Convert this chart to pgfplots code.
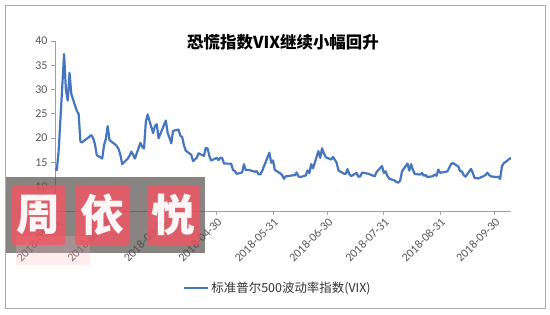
\documentclass[border=0pt]{standalone}
\usepackage{fontspec}
\usepackage{pgfplots}
\pgfplotsset{compat=1.18}
\setmainfont{Carlito}
\newfontfamily\cjk{Noto Sans CJK SC}
\definecolor{vix}{RGB}{70,118,190}
\definecolor{axgray}{RGB}{160,160,160}
\definecolor{tickgray}{RGB}{89,89,89}
\definecolor{frame}{RGB}{170,170,170}
\definecolor{wmgray}{RGB}{80,75,72}
\definecolor{wmred}{RGB}{255,80,95}
\pgfplotstableread{
d v
0 13.54
1 13.47
2 17.31
5 37.32
6 29.98
7 27.73
8 33.46
9 29.06
12 25.61
13 24.97
14 19.26
15 19.13
16 19.46
20 20.60
21 20.02
22 18.72
23 16.49
26 15.80
27 18.59
28 19.85
29 22.47
30 19.59
33 18.73
34 18.36
35 17.76
36 16.54
37 14.64
40 15.78
41 16.35
42 17.23
43 16.59
44 15.80
47 19.02
48 18.20
49 17.86
50 23.34
51 24.87
54 21.03
55 22.50
56 22.87
57 19.97
61 23.62
62 21.10
63 20.06
64 18.94
65 21.49
68 21.77
69 20.47
70 20.24
71 18.49
72 17.41
75 16.56
76 15.25
77 15.60
78 15.96
79 16.88
82 16.34
83 18.02
84 17.84
85 16.24
86 15.41
89 15.93
90 15.49
91 15.97
92 15.90
93 14.77
96 14.75
97 14.71
98 13.42
99 13.23
100 12.65
103 12.93
104 14.63
105 13.42
106 13.43
107 13.42
110 13.08
111 13.22
112 12.58
113 12.53
114 13.22
118 17.02
119 14.94
120 15.43
121 13.46
124 12.74
125 12.40
126 11.64
127 12.13
128 12.18
131 12.35
132 12.34
133 12.94
134 12.12
135 11.98
138 12.31
139 13.35
140 12.79
141 14.64
142 13.77
145 17.33
146 15.92
147 17.91
148 16.85
149 16.09
152 15.60
153 16.14
155 14.97
156 13.37
159 12.69
160 12.64
161 13.63
162 12.58
163 12.18
166 12.83
167 12.06
168 12.10
169 12.87
170 12.86
173 12.62
174 12.41
175 12.29
176 12.14
177 13.03
180 14.26
181 12.83
182 13.15
183 12.19
184 11.64
187 11.27
188 10.93
189 10.85
190 11.27
191 13.16
194 14.78
195 13.31
196 14.64
197 13.45
198 12.64
201 12.49
202 12.86
203 12.25
204 12.41
205 11.99
208 12.16
209 12.50
210 12.25
211 13.53
212 12.86
216 13.16
217 13.91
218 14.65
219 14.88
222 14.16
223 13.22
224 13.14
225 12.37
226 12.07
229 13.68
230 12.79
231 11.75
232 11.80
233 11.68
236 12.20
237 12.42
238 12.89
239 12.41
240 12.12
243 12.00
244 12.05
245 11.61
246 14.22
247 14.82
250 15.69
251 15.95
}\vixdata
\begin{document}
\begin{tikzpicture}[x=1bp,y=1bp]
\path[use as bounding box] (0,0) rectangle (550,314);
\fill[white] (0,0) rectangle (550,314);
\draw[frame, line width=0.8bp] (5.5,5.5) rectangle (545.5,308.5);
\begin{axis}[
  at={(55bp,103bp)}, anchor=south west,
  scale only axis, width=456bp, height=170bp,
  xmin=0, xmax=251, ymin=5, ymax=40,
  axis lines*=left,
  axis line style={draw=axgray, line width=0.8bp},
  tick style={draw=axgray, line width=0.8bp},
  tick align=outside, major tick length=4bp,
  ytick={5,10,...,40},
  xtick={0,28,59,89,120,150,181,212,242},
  xticklabels={2018-01-31,2018-02-28,2018-03-31,2018-04-30,2018-05-31,2018-06-30,2018-07-31,2018-08-31,2018-09-30},
  xticklabel style={rotate=45, anchor=north east, font=\fontsize{12}{12}\selectfont, text=tickgray, inner sep=1.5bp},
  yticklabel style={font=\fontsize{12}{12}\selectfont, text=tickgray, /pgf/number format/assume math mode=true},
  legend style={at={(0.489,-0.453)}, anchor=center, draw=none, fill=none,
    font=\cjk\fontsize{12.5}{12.5}\selectfont, text=black!80, inner sep=0pt},
  legend image code/.code={\draw[#1] (0bp,0bp) -- (24bp,0bp);},
]
\addplot[vix, line width=2.2bp, line join=round] table[x=d, y=v] {\vixdata};
\addlegendentry{标准普尔500波动率指数(VIX)}
\end{axis}
\node[font=\cjk\bfseries\fontsize{16.5}{16.5}\selectfont] at (283,272) {恐慌指数VIX继续小幅回升};
% watermark
\fill[wmgray, fill opacity=0.68] (6,61) rectangle (205,137);
\fill[wmred!40, fill opacity=0.25] (16,49) rectangle (90,78);
\foreach \xa/\xb/\ch in {12/65/周, 75/130/依, 147/200/悦}{
  \fill[wmred, fill opacity=0.72, rounded corners=3bp] (\xa,69) rectangle (\xb,129);
  \node[text=white, text opacity=0.95, font=\cjk\bfseries\fontsize{44}{44}\selectfont] at ({(\xa+\xb)/2},99) {\ch};
}
\end{tikzpicture}
\end{document}
